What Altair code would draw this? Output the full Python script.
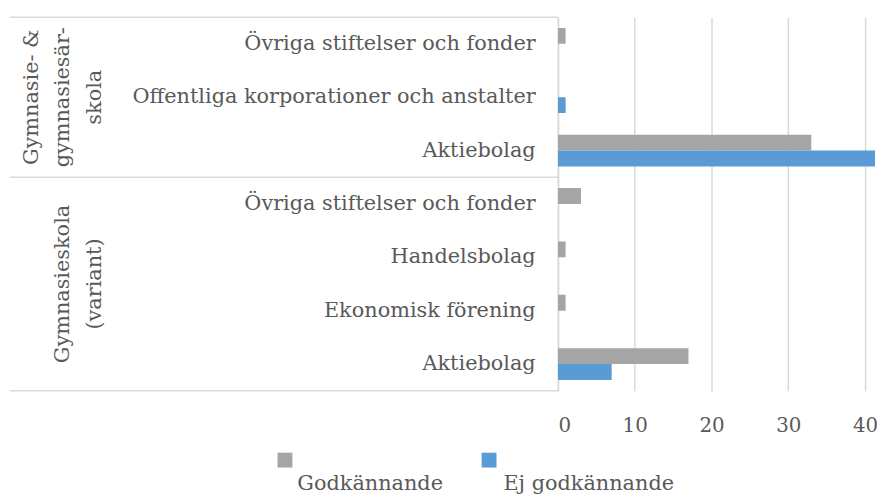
import altair as alt
import pandas as pd

# ---- data ----
group_labels = ["Gymnasie- &\ngymnasiesär-\nskola", "Gymnasieskola\n(variant)"]
group1_categories = ["Övriga stiftelser och fonder", "Offentliga korporationer och anstalter", "Aktiebolag"]
group2_categories = ["Övriga stiftelser och fonder", "Handelsbolag", "Ekonomisk förening", "Aktiebolag"]
series = ["Godkännande", "Ej godkännande"]
group1_godk = [1, 0, 33]
group1_ej = [0, 1, 42]
group2_godk = [3, 1, 1, 17]
group2_ej = [0, 0, 0, 7]
x_ticks = [0, 10, 20, 30, 40]
colors = ["#A5A5A5", "#5B9BD5"]

FONT = "DejaVu Serif"
FS = 21
TXT = "#595959"
LINE = "#D9D9D9"

rows = []
for gi, (cats, gv, ev) in enumerate([(group1_categories, group1_godk, group1_ej),
                                      (group2_categories, group2_godk, group2_ej)]):
    for c, a, b in zip(cats, gv, ev):
        key = f"{gi}|{c}"
        rows.append({"row": key, "group": gi, "category": c, "series": series[0], "value": a})
        rows.append({"row": key, "group": gi, "category": c, "series": series[1], "value": b})
df = pd.DataFrame(rows)
row_order = list(dict.fromkeys(df["row"]))
g_rows = [[r for r in row_order if r.startswith(f"{i}|")] for i in range(2)]

yscale = alt.Scale(domain=row_order, paddingInner=0, paddingOuter=0)
yaxis = alt.Axis(title=None, labelExpr="split(datum.label, '|')[1]", ticks=False,
                 domainColor=LINE, domainWidth=1.5, labelPadding=23, labelFont=FONT,
                 labelFontSize=FS, labelColor=TXT, labelLimit=700)


def Y(band=0.5):
    return alt.Y("row:N", sort=row_order, scale=yscale, axis=yaxis, bandPosition=band)


color_scale = alt.Scale(domain=series, range=colors)

bars = alt.Chart(df).mark_bar(clip=True).encode(
    x=alt.X("value:Q", scale=alt.Scale(domain=[0, 41.3], nice=False, zero=True),
            axis=alt.Axis(values=x_ticks, title=None, grid=True, gridColor=LINE, gridWidth=1.5,
                          ticks=False, domain=False, labelPadding=25, labelFont=FONT,
                          labelFontSize=20, labelColor=TXT)),
    y=alt.Y("row:N", sort=row_order, scale=yscale, axis=yaxis),
    yOffset=alt.YOffset("series:N", sort=series,
                        scale=alt.Scale(domain=series, paddingInner=0, paddingOuter=0.68)),
    color=alt.Color("series:N", scale=color_scale, legend=None),
)

tops = pd.DataFrame({"row": [g_rows[0][0], g_rows[1][0]]})
bottom = pd.DataFrame({"row": [g_rows[1][-1]]})
rule_top = alt.Chart(tops).mark_rule(color=LINE, strokeWidth=1.5).encode(
    y=Y(0), x=alt.value(-553), x2=alt.value(0))
rule_bot = alt.Chart(bottom).mark_rule(color=LINE, strokeWidth=1.5).encode(
    y=Y(1), x=alt.value(-553), x2=alt.value(0))

g1 = pd.DataFrame({"row": [g_rows[0][1]], "label": [group_labels[0]]})
g2 = pd.DataFrame({"row": [g_rows[1][1]], "label": [group_labels[1]]})
gtext_kw = dict(angle=270, align="center", baseline="alphabetic", lineBreak="\n", lineHeight=32,
                font=FONT, fontSize=FS, color=TXT)
glab1 = alt.Chart(g1).mark_text(**gtext_kw).encode(y=Y(0.5), x=alt.value(-525), text="label:N")
glab2 = alt.Chart(g2).mark_text(**gtext_kw).encode(y=Y(1), x=alt.value(-493), text="label:N")

leg_df = pd.DataFrame({"series": series})
leg_sym_x = [-275.5, -69.5]
leg_txt_x = [-263, -55]
legend_layers = []
for s, sx, tx in zip(series, leg_sym_x, leg_txt_x):
    base = alt.Chart(leg_df).transform_filter(alt.datum.series == s)
    legend_layers.append(base.mark_square(size=225, opacity=1).encode(
        x=alt.value(sx), y=alt.value(447),
        color=alt.Color("series:N", scale=color_scale, legend=None)))
    legend_layers.append(base.mark_text(align="left", baseline="alphabetic", font=FONT,
                                        fontSize=FS, color=TXT).encode(
        x=alt.value(tx), y=alt.value(477), text="series:N"))

chart = alt.layer(bars, rule_top, rule_bot, glab1, glab2, *legend_layers).properties(
    width=320, height=377, autosize="none",
    padding={"left": 555, "top": 7, "right": 2, "bottom": 107},
).configure_view(stroke=None)

chart.save("out.html", embed_options={"renderer": "svg", "actions": False})
